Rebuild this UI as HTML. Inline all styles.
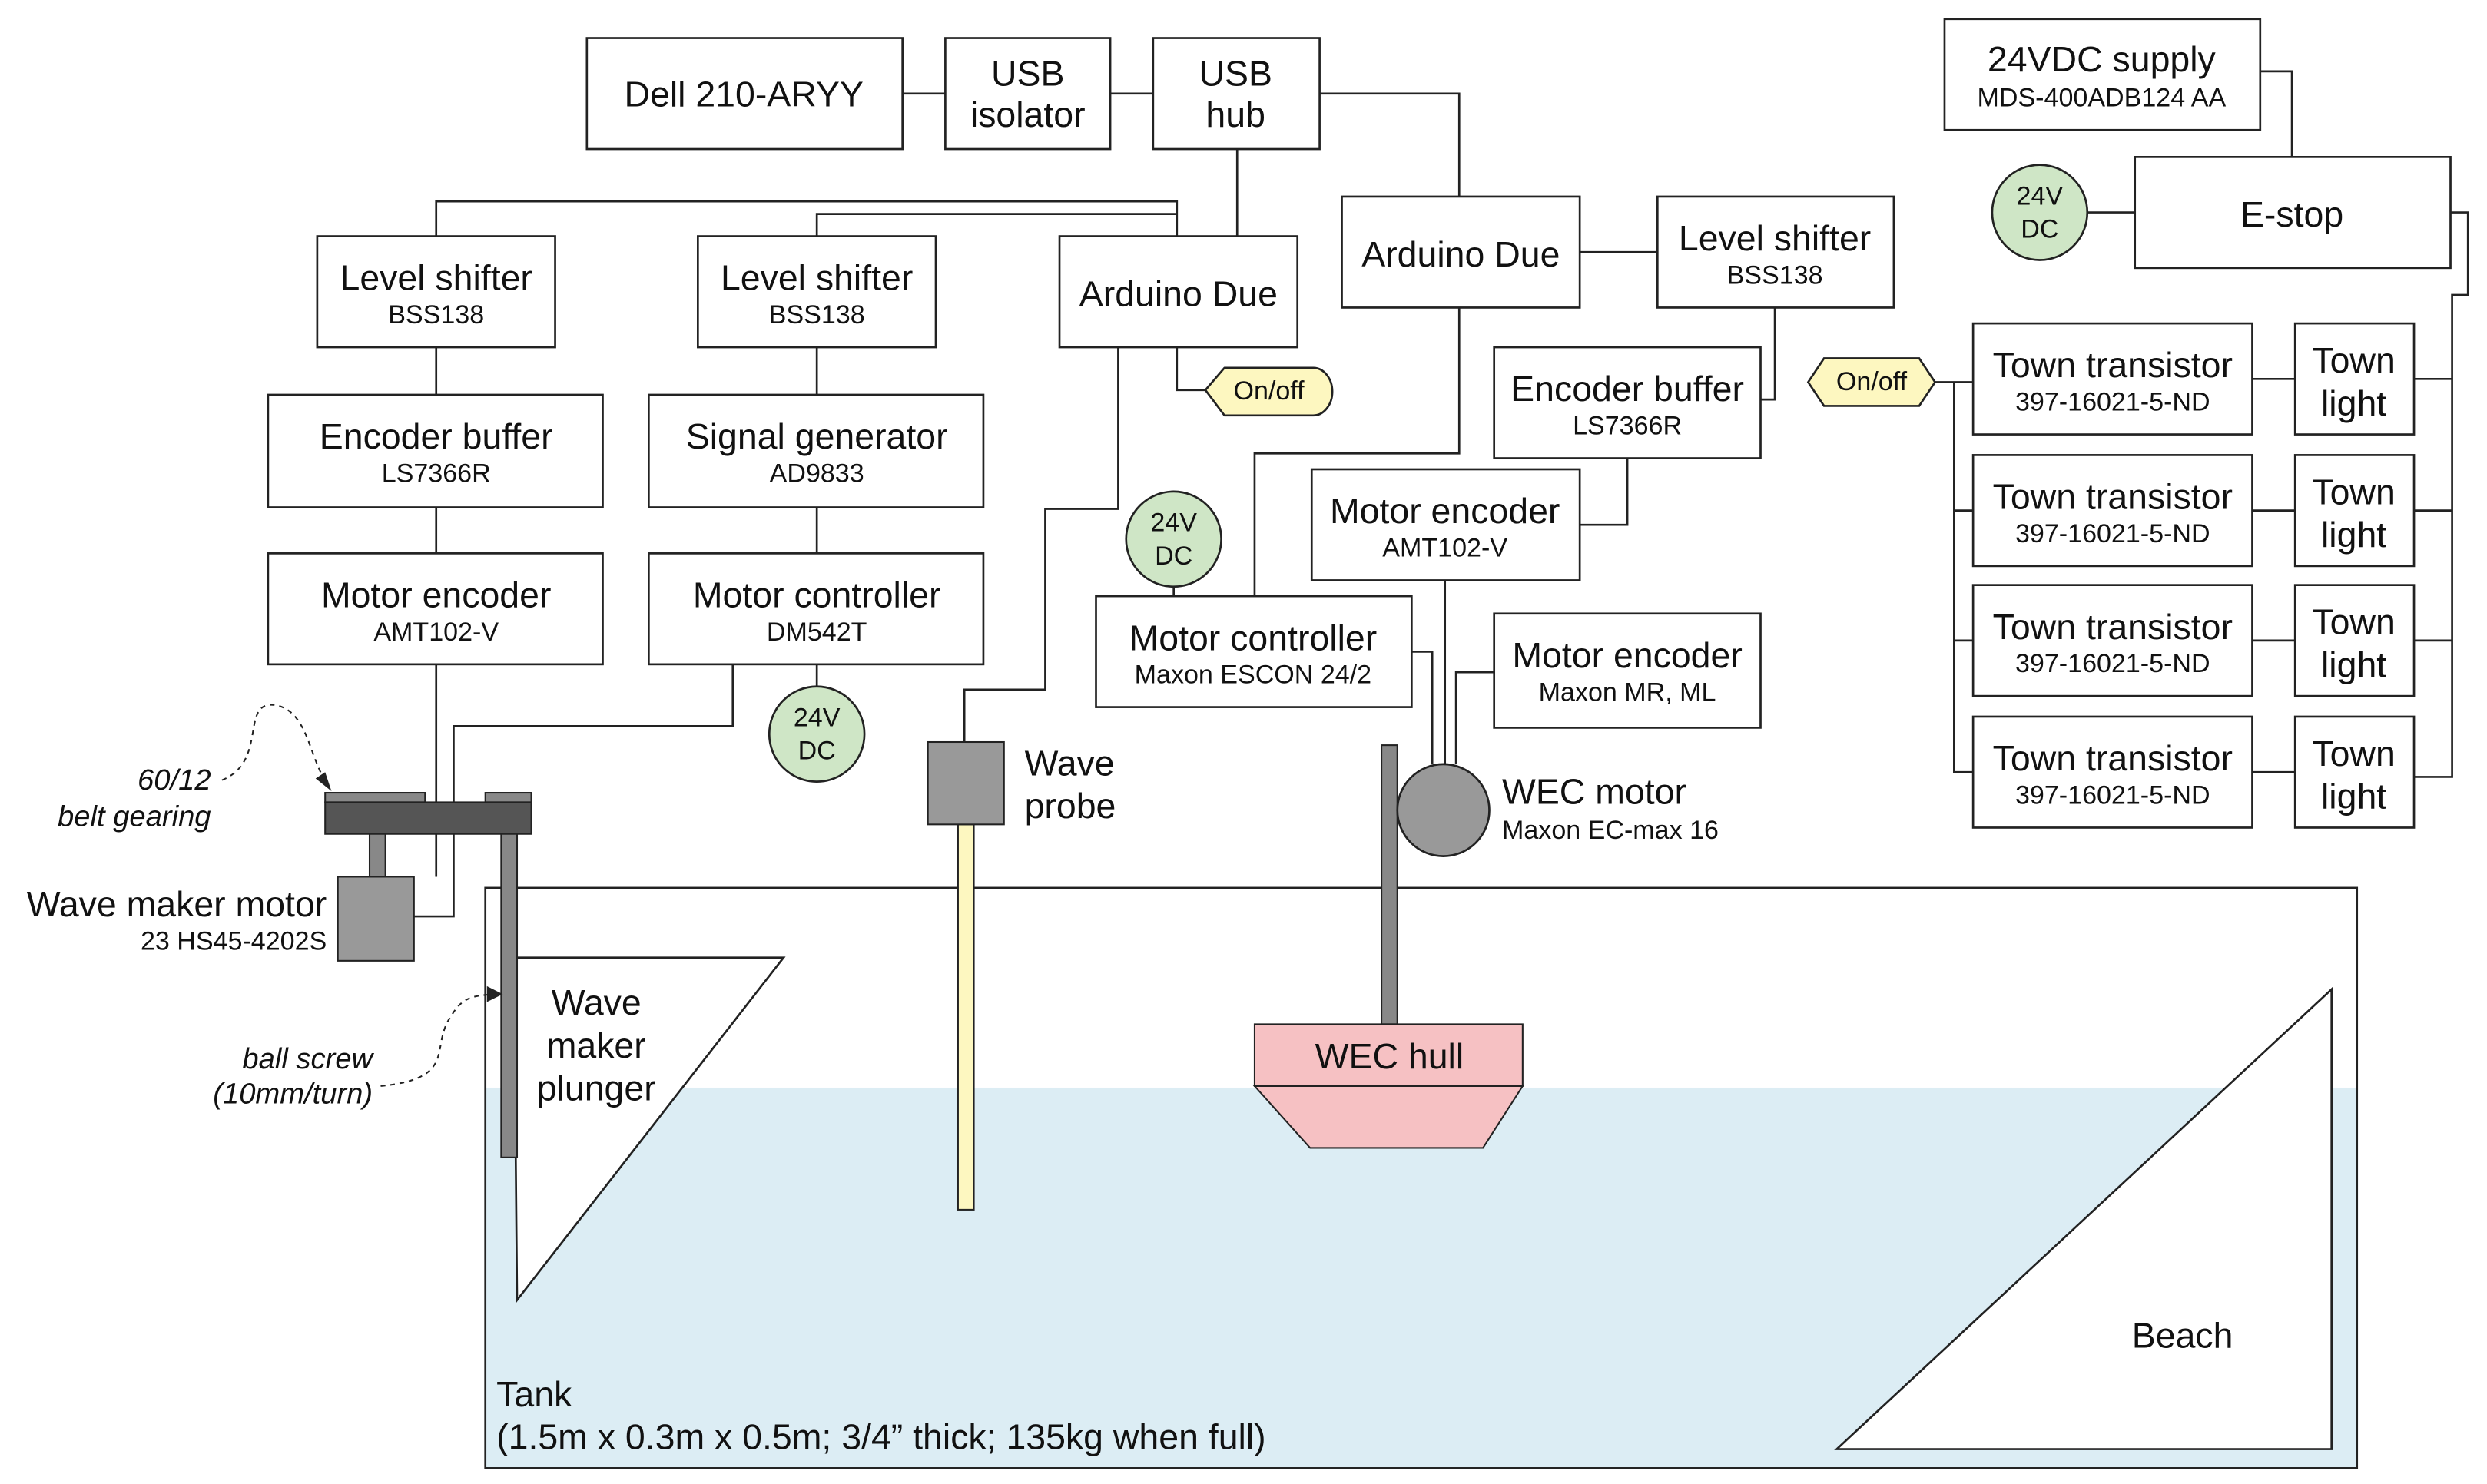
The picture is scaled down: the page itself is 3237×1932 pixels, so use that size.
<!DOCTYPE html>
<html><head><meta charset="utf-8"><style>
html,body{margin:0;padding:0;background:#fff}
svg{display:block}
text{font-family:"Liberation Sans",sans-serif;fill:#111}
.b{fill:#fff;stroke:#222;stroke-width:1.3}
.l{fill:none;stroke:#222;stroke-width:1.3}
.t{font-size:22.5px;text-anchor:middle}
.s{font-size:16.5px;text-anchor:middle}
.i{font-size:18.5px;font-style:italic;text-anchor:end}
</style></head><body>
<svg width="3237" height="1932" viewBox="0 0 1568 936" preserveAspectRatio="none" xmlns="http://www.w3.org/2000/svg">
<!-- tank -->
<rect x="306" y="686" width="1180" height="240" fill="#dcedf4"/>
<rect x="306" y="560" width="1180" height="366" class="l"/>
<polygon points="1158,914 1470,624 1470,914" class="b"/>
<polygon points="324,604 494,604 326,820" class="b"/>
<text x="1376" y="850" class="t">Beach</text>
<text x="376" y="640" class="t">Wave</text><text x="376" y="667" class="t">maker</text><text x="376" y="694" class="t">plunger</text>
<text x="313" y="887" style="font-size:22.5px">Tank</text>
<text x="313" y="914" style="font-size:22.5px">(1.5m x 0.3m x 0.5m; 3/4” thick; 135kg when full)</text>
<!-- top boxes -->
<rect x="370" y="24" width="199" height="70" class="b"/><text x="469" y="67" class="t">Dell 210-ARYY</text>
<rect x="596" y="24" width="104" height="70" class="b"/><text x="648" y="54" class="t">USB</text><text x="648" y="80" class="t">isolator</text>
<rect x="727" y="24" width="105" height="70" class="b"/><text x="779" y="54" class="t">USB</text><text x="779" y="80" class="t">hub</text>
<path d="M569,59H596M700,59H727M832,59H920V124M780,94V149M275,149V127H742V149M515,149V135H742" class="l"/>
<rect x="1226" y="12" width="199" height="70" class="b"/><text x="1325" y="45" class="t">24VDC supply</text><text x="1325" y="67" class="s">MDS-400ADB124 AA</text>
<rect x="1346" y="99" width="199" height="70" class="b"/><text x="1445" y="143" class="t">E-stop</text>
<path d="M1425,45H1445V99M1316,134H1346M1545,134H1556V186H1546V490H1522M1522,239H1546M1522,322H1546M1522,404H1546" class="l"/>
<circle cx="1286" cy="134" r="30" fill="#cfe6c6" stroke="#222" stroke-width="1.3"/><text x="1286" y="129" class="s">24V</text><text x="1286" y="150" class="s">DC</text>
<!-- left column -->
<rect x="200" y="149" width="150" height="70" class="b"/><text x="275" y="183" class="t">Level shifter</text><text x="275" y="204" class="s">BSS138</text>
<rect x="440" y="149" width="150" height="70" class="b"/><text x="515" y="183" class="t">Level shifter</text><text x="515" y="204" class="s">BSS138</text>
<rect x="668" y="149" width="150" height="70" class="b"/><text x="743" y="193" class="t">Arduino Due</text>
<rect x="169" y="249" width="211" height="71" class="b"/><text x="275" y="283" class="t">Encoder buffer</text><text x="275" y="304" class="s">LS7366R</text>
<rect x="409" y="249" width="211" height="71" class="b"/><text x="515" y="283" class="t">Signal generator</text><text x="515" y="304" class="s">AD9833</text>
<rect x="169" y="349" width="211" height="70" class="b"/><text x="275" y="383" class="t">Motor encoder</text><text x="275" y="404" class="s">AMT102-V</text>
<rect x="409" y="349" width="211" height="70" class="b"/><text x="515" y="383" class="t">Motor controller</text><text x="515" y="404" class="s">DM542T</text>
<path d="M275,219V249M275,320V349M515,219V249M515,320V349M275,419V553M462,419V458H286V578H261M742,219V246H760M705,219V321H659V435H608V468M515,419V433" class="l"/>
<circle cx="515" cy="463" r="30" fill="#cfe6c6" stroke="#222" stroke-width="1.3"/><text x="515" y="458" class="s">24V</text><text x="515" y="479" class="s">DC</text>
<path d="M760,246 L772,232 H828 A12,15 0 0 1 828,262 H772 Z" fill="#fdf7c0" stroke="#222" stroke-width="1.3" stroke-linejoin="round"/><text x="800" y="252" class="s">On/off</text>
<!-- belt/motor -->
<rect x="205" y="500" width="63" height="6" fill="#888" stroke="#222"/>
<rect x="306" y="500" width="29" height="6" fill="#888" stroke="#222"/>
<rect x="205" y="506" width="130" height="20" fill="#555" stroke="#222"/>
<rect x="233" y="526" width="10" height="27" fill="#888" stroke="#222"/>
<rect x="213" y="553" width="48" height="53" fill="#999" stroke="#222"/>
<rect x="316" y="526" width="10" height="204" fill="#888" stroke="#222"/>
<text x="206" y="578" style="font-size:22.5px;text-anchor:end">Wave maker motor</text>
<text x="206" y="599" style="font-size:16.5px;text-anchor:end">23 HS45-4202S</text>
<text x="133" y="498" class="i">60/12</text>
<text x="133" y="521" class="i">belt gearing</text>
<path d="M140,492C170,480 150,440 175,445C195,450 195,480 207,495" fill="none" stroke="#222" stroke-dasharray="3,3"/>
<polygon points="209,499 199,491 205,487" fill="#222"/>
<text x="235" y="674" class="i">ball screw</text>
<text x="235" y="696" class="i">(10mm/turn)</text>
<path d="M240,685C290,680 270,660 285,640C292,628 300,628 313,627" fill="none" stroke="#222" stroke-dasharray="3,3"/>
<polygon points="317,627 307,622 307,632" fill="#222"/>
<!-- probe -->
<rect x="604" y="520" width="10" height="243" fill="#fdf7c0" stroke="#222"/>
<rect x="585" y="468" width="48" height="52" fill="#999" stroke="#222"/>
<text x="646" y="489" class="t" style="text-anchor:start">Wave</text><text x="646" y="516" class="t" style="text-anchor:start">probe</text>
<!-- middle right -->
<rect x="846" y="124" width="150" height="70" class="b"/><text x="921" y="168" class="t">Arduino Due</text>
<rect x="1045" y="124" width="149" height="70" class="b"/><text x="1119" y="158" class="t">Level shifter</text><text x="1119" y="179" class="s">BSS138</text>
<rect x="942" y="219" width="168" height="70" class="b"/><text x="1026" y="253" class="t">Encoder buffer</text><text x="1026" y="274" class="s">LS7366R</text>
<rect x="827" y="296" width="169" height="70" class="b"/><text x="911" y="330" class="t">Motor encoder</text><text x="911" y="351" class="s">AMT102-V</text>
<rect x="691" y="376" width="199" height="70" class="b"/><text x="790" y="410" class="t">Motor controller</text><text x="790" y="431" class="s">Maxon ESCON 24/2</text>
<rect x="942" y="387" width="168" height="72" class="b"/><text x="1026" y="421" class="t">Motor encoder</text><text x="1026" y="442" class="s">Maxon MR, ML</text>
<path d="M996,159H1045M1119,194V252H1110M1026,289V331H996M920,194V286H791V376M740,370V376M890,411H903V482M911,366V482M942,424H918V482" class="l"/>
<circle cx="740" cy="340" r="30" fill="#cfe6c6" stroke="#222" stroke-width="1.3"/><text x="740" y="335" class="s">24V</text><text x="740" y="356" class="s">DC</text>
<rect x="871" y="470" width="10" height="176" fill="#888" stroke="#222"/>
<circle cx="910" cy="511" r="29" fill="#999" stroke="#222" stroke-width="1.3"/>
<text x="947" y="507" class="t" style="text-anchor:start">WEC motor</text><text x="947" y="529" class="s" style="text-anchor:start">Maxon EC-max 16</text>
<rect x="791" y="646" width="169" height="39" fill="#f6c1c3" stroke="#222"/>
<polygon points="791,685 960,685 935,724 826,724" fill="#f6c1c3" stroke="#222"/>
<text x="876" y="674" class="t">WEC hull</text>
<!-- town -->
<polygon points="1140,241 1150,226 1210,226 1220,241 1210,256 1150,256" fill="#fdf7c0" stroke="#222" stroke-width="1.3"/><text x="1180" y="246" class="s">On/off</text>
<path d="M1220,241H1244M1232,241V487H1244M1232,322H1244M1232,404H1244" class="l"/>
<rect x="1244" y="204" width="176" height="70" class="b"/><text x="1332" y="238" class="t">Town transistor</text><text x="1332" y="259" class="s">397-16021-5-ND</text>
<rect x="1447" y="204" width="75" height="70" class="b"/><text x="1484" y="235" class="t">Town</text><text x="1484" y="262" class="t">light</text>
<rect x="1244" y="287" width="176" height="70" class="b"/><text x="1332" y="321" class="t">Town transistor</text><text x="1332" y="342" class="s">397-16021-5-ND</text>
<rect x="1447" y="287" width="75" height="70" class="b"/><text x="1484" y="318" class="t">Town</text><text x="1484" y="345" class="t">light</text>
<rect x="1244" y="369" width="176" height="70" class="b"/><text x="1332" y="403" class="t">Town transistor</text><text x="1332" y="424" class="s">397-16021-5-ND</text>
<rect x="1447" y="369" width="75" height="70" class="b"/><text x="1484" y="400" class="t">Town</text><text x="1484" y="427" class="t">light</text>
<rect x="1244" y="452" width="176" height="70" class="b"/><text x="1332" y="486" class="t">Town transistor</text><text x="1332" y="507" class="s">397-16021-5-ND</text>
<rect x="1447" y="452" width="75" height="70" class="b"/><text x="1484" y="483" class="t">Town</text><text x="1484" y="510" class="t">light</text>
<path d="M1420,239H1447M1420,322H1447M1420,404H1447M1420,487H1447" class="l"/>
</svg>
</body></html>
